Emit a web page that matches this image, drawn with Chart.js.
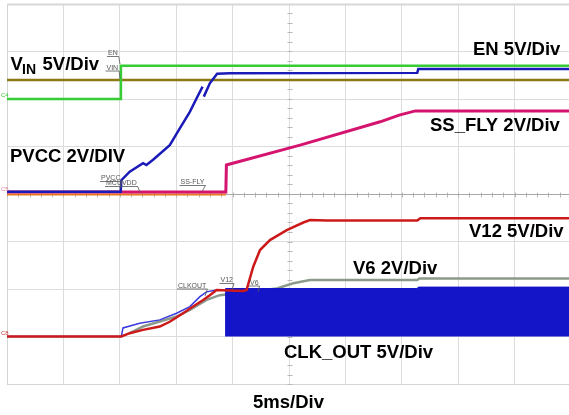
<!DOCTYPE html>
<html>
<head>
<meta charset="utf-8">
<script src="https://cdn.jsdelivr.net/npm/chart.js@4/dist/chart.umd.min.js"></script>
<style>
  html, body { margin: 0; padding: 0; background: #fff; overflow: hidden; }
  #wrap { width: 577px; height: 415px; }
</style>
</head>
<body>
<div id="wrap"><canvas id="scope" width="577" height="415"></canvas></div>
<script>
// Scope capture: time in ms (5 ms/div), vertical position in screen divisions (0 = bottom, 8 = top)

// EN (green), steps at trigger
const enMs  = [0, 10.05, 10.1, 50];
const enDiv = [6.0, 6.0, 6.70, 6.70];

// VIN (olive), flat
const vinMs  = [0, 50];
const vinDiv = [6.40, 6.40];

// PVCC (blue)
const pvccMs  = [0, 10.08, 10.14, 10.88, 12.06, 12.36, 12.95, 14.43, 15.32, 16.21, 16.80, 17.34, 17.40, 17.45, 17.98, 18.63, 19.76, 36.37, 36.46, 50];
const pvccDiv = [4.05, 4.05, 4.29, 4.47, 4.65, 4.61, 4.72, 5.03, 5.38, 5.73, 6.01, 6.26, null, 6.05, 6.33, 6.53, 6.54, 6.55, 6.63, 6.63];

// SS_FLY (magenta)
const ssMs  = [0, 19.40, 19.45, 25.98, 33.08, 34.77, 36.20, 50];
const ssDiv = [4.04, 4.04, 4.61, 5.03, 5.52, 5.66, 5.75, 5.75];

// MCUVDD (orange)
const mcuMs  = [0, 19.40];
const mcuDiv = [3.99, 3.99];

// V12 (red)
const v12Ms  = [0, 10.14, 10.88, 12.06, 13.54, 14.43, 15.61, 16.50, 17.39, 17.98, 18.58, 20.94, 21.24, 21.83, 22.43, 23.31, 24.80, 26.27, 26.86, 28.35, 36.37, 36.64, 50];
const v12Div = [1.0, 1.0, 1.07, 1.14, 1.21, 1.31, 1.49, 1.63, 1.77, 1.87, 1.98, 1.96, 1.98, 2.47, 2.82, 3.03, 3.24, 3.40, 3.45, 3.44, 3.44, 3.49, 3.49];

// CLK_OUT (blue) before switching starts
const clkMs  = [0, 10.14, 10.28, 11.77, 13.54, 15.03, 16.21, 17.10, 17.69, 18.58, 19.38];
const clkDiv = [1.0, 1.0, 1.18, 1.28, 1.35, 1.49, 1.63, 1.84, 1.94, 1.98, 1.98];

// CLK_OUT switching envelope (top edge; bottom is 1.0 div)
const burstMs  = [19.38, 19.38, 36.37, 36.46, 50];
const burstDiv = [1.0, 2.01, 2.01, 2.04, 2.04];
const burstLow = 1.0;

// V6 (gray)
const v6Ms  = [10.88, 12.06, 15.03, 16.21, 17.69, 18.87, 23.91, 25.38, 26.86, 36.37, 36.55, 50];
const v6Div = [1.07, 1.21, 1.42, 1.56, 1.77, 1.87, 2.01, 2.12, 2.19, 2.19, 2.22, 2.22];

// axis
const timeMax = 50, timeStep = 5;
const divMax = 8, divStep = 1;

function pts(xs, ys) {
  return xs.map((x, i) => ({ x: x, y: ys[i] }));
}

function trace(label, xs, ys, color, width, order) {
  return {
    label: label,
    data: pts(xs, ys),
    borderColor: color,
    borderWidth: width,
    pointRadius: 0,
    tension: 0,
    fill: false,
    spanGaps: false,
    order: order
  };
}

// labels drawn on the screen
const bigFont = 'bold 18.5px "Liberation Sans", Arial, sans-serif';
const tinyFont = '7px "Liberation Sans", Arial, sans-serif';

const textPlugin = {
  id: 'scopeText',
  beforeDatasetsDraw(chart) {
    const ctx = chart.ctx;
    const a = chart.chartArea;
    const xs = chart.scales.x, ys = chart.scales.y;
    ctx.save();
    // minor ticks on the centre lines
    ctx.strokeStyle = '#b8b8b8';
    ctx.lineWidth = 1;
    const cx = Math.round(xs.getPixelForValue(25)) + 0.5;
    const cy = Math.round(ys.getPixelForValue(4)) + 0.5;
    ctx.beginPath();
    for (let v = 0; v <= divMax; v += 0.2) {
      const y = Math.round(ys.getPixelForValue(v)) + 0.5;
      ctx.moveTo(cx - 2, y); ctx.lineTo(cx + 3, y);
    }
    for (let t = 0; t <= timeMax; t += 1) {
      const x = Math.round(xs.getPixelForValue(t)) + 0.5;
      ctx.moveTo(x, cy - 2); ctx.lineTo(x, cy + 3);
    }
    ctx.stroke();
    ctx.strokeStyle = '#a8a8a8';
    ctx.beginPath();
    ctx.moveTo(a.left, cy); ctx.lineTo(a.right, cy);
    ctx.stroke();
    // top frame a little heavier
    ctx.strokeStyle = '#d8d8d8';
    ctx.lineWidth = 2;
    ctx.beginPath();
    ctx.moveTo(a.left, a.top + 0.5); ctx.lineTo(a.right, a.top + 0.5);
    ctx.stroke();
    ctx.restore();
  },
  afterDraw(chart) {
    const ctx = chart.ctx;
    ctx.save();
    ctx.fillStyle = '#000';
    ctx.textBaseline = 'alphabetic';
    ctx.textAlign = 'left';
    ctx.font = bigFont;
    ctx.fillText('V', 10.5, 70);
    ctx.fillText('5V/Div', 42.5, 70);
    ctx.fillText('EN 5V/Div', 473, 55);
    ctx.fillText('SS_FLY 2V/Div', 430, 130.5);
    ctx.fillText('PVCC 2V/DIV', 10, 162);
    ctx.fillText('V12 5V/Div', 469, 237.3);
    ctx.fillText('V6 2V/Div', 353, 274.3);
    ctx.fillText('CLK_OUT 5V/Div', 284, 358.3);
    ctx.fillText('5ms/Div', 253, 407.5);
    ctx.font = 'bold 14px "Liberation Sans", Arial, sans-serif';
    ctx.fillText('IN', 22, 74);

    // small probe tags with leaders
    const tags = [
      ['EN', 108, 55, 120, 64],
      ['VIN', 106.5, 69.5, 120, 79],
      ['PVCC', 101, 180, 120, 188],
      ['MCUVDD', 106, 185, 140, 192.5],
      ['SS-FLY', 180.5, 184, 202, 191.5],
      ['CLKOUT', 178, 287.5, 205, 296],
      ['V12', 220.5, 282, 232, 290],
      ['V6', 250, 284.5, 258, 292]
    ];
    ctx.font = tinyFont;
    ctx.fillStyle = '#555';
    ctx.strokeStyle = '#555';
    ctx.lineWidth = 0.8;
    tags.forEach(([t, x, y, lx, ly]) => {
      ctx.fillText(t, x, y);
      const w = ctx.measureText(t).width;
      ctx.beginPath();
      ctx.moveTo(x - 1, y + 1.5);
      ctx.lineTo(x + w + 1, y + 1.5);
      ctx.lineTo(lx, ly);
      ctx.stroke();
    });
    // channel markers
    ctx.font = '6px "Liberation Sans", Arial, sans-serif';
    ctx.fillStyle = '#33cc33';
    ctx.fillText('C4', 1, 97);
    ctx.fillStyle = '#e07a9a';
    ctx.fillText('C5', 1, 191);
    ctx.fillStyle = '#d04040';
    ctx.fillText('C8', 1, 335);
    ctx.restore();
  }
};

const datasets = [
  trace('PVCC', pvccMs, pvccDiv, '#1a1ab8', 2.5, 1),
  trace('SS_FLY', ssMs, ssDiv, '#d4146e', 3, 2),
  trace('MCUVDD', mcuMs, mcuDiv, '#e87722', 2, 3),
  trace('EN', enMs, enDiv, '#36cc36', 2.5, 4),
  trace('VIN', vinMs, vinDiv, '#8a7a14', 2.5, 5),
  trace('V12', v12Ms, v12Div, '#cc1a1a', 2.5, 6),
  Object.assign(trace('CLK_OUT burst', burstMs, burstDiv, '#1414c8', 1, 7), {
    fill: { value: burstLow },
    backgroundColor: '#1414c8'
  }),
  trace('CLK_OUT', clkMs, clkDiv, '#3a3ae0', 1.5, 8),
  trace('V6', v6Ms, v6Div, '#8c9a8c', 2.5, 9)
];

new Chart(document.getElementById('scope'), {
  type: 'line',
  data: { datasets: datasets },
  options: {
    responsive: false,
    devicePixelRatio: 1,
    animation: false,
    layout: { padding: { left: 7, top: 4, right: 6, bottom: 31 } },
    plugins: { legend: { display: false }, tooltip: { enabled: false } },
    scales: {
      x: {
        type: 'linear',
        min: 0,
        max: timeMax,
        ticks: { display: false, stepSize: timeStep },
        grid: { color: '#dcdcdc', drawTicks: false, lineWidth: 1 },
        border: { display: true, color: '#d4d4d4', width: 1 }
      },
      y: {
        type: 'linear',
        min: 0,
        max: divMax,
        ticks: { display: false, stepSize: divStep },
        grid: { color: '#dcdcdc', drawTicks: false, lineWidth: 1 },
        border: { display: true, color: '#d4d4d4', width: 1 }
      }
    }
  },
  plugins: [textPlugin]
});
</script>
</body>
</html>
